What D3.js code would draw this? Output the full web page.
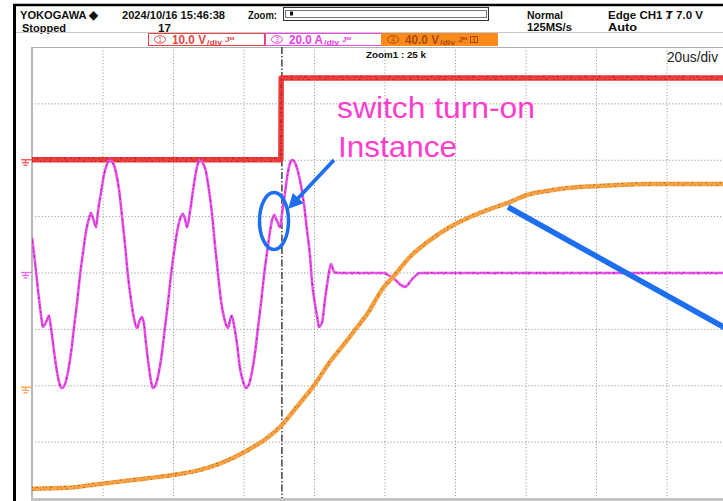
<!DOCTYPE html>
<html>
<head>
<meta charset="utf-8">
<script src="https://cdn.jsdelivr.net/npm/d3@7"></script>
<style>
  html, body { margin: 0; padding: 0; background: #fff; overflow: hidden; }
  svg { display: block; }
</style>
</head>
<body>
<svg id="scope" width="723" height="501"></svg>
<script>
// ---- Acquisition settings ----
const timePerDiv = 20;            // µs/div
const timeDomain = [0, 200];      // 10 divisions
const triggerTime = 70.9;         // µs from left edge
const gridTimes = d3.range(20, 200, 20);
const gridDivs = d3.range(-3, 4, 1);

// ---- CH1 voltage, 10 V/div, ground at +2 div ----
const ch1Time = [0, 70.6, 70.7, 200];
const ch1Volt = [0, 0, 14.5, 14.5];

// ---- CH3 current, 20 A/div, ground at centre ----
const ch3Time = [0, 0.85, 1.7, 2.55, 3.1, 4.0, 4.8, 5.4, 6.2, 7.1, 7.9, 8.5,
  9.4, 10.2, 11.1, 11.9, 12.8, 13.6, 14.5, 15.3, 16.2, 16.7, 17.3, 18.2, 18.7, 19.6, 20.4, 21.3, 22.1,
  23.0, 23.8, 24.7, 25.5, 26.4, 27.2, 28.1, 28.9, 29.8, 30.6, 31.2, 31.8, 32.3, 33.2, 33.8, 34.3,
  35.2, 36.0, 36.9, 37.7, 38.6, 39.4, 40.3, 41.1, 42.0, 42.8, 43.4, 44.0, 44.8, 45.7, 46.5, 47.1, 47.7,
  48.5, 49.4, 50.2, 51.1, 51.9, 52.8, 53.6, 54.5, 55.6, 56.2, 56.7, 57.3, 58.2, 59.0, 59.9, 60.7,
  61.6, 62.4, 63.3, 64.1, 65.0, 65.8, 66.7, 67.5, 68.1, 68.7, 69.5, 70.4, 70.9, 71.8, 72.6, 73.2, 73.8,
  74.9, 76.0, 77.2, 78.0, 78.9, 79.4, 80.3, 80.9, 81.4, 82.3, 83.1, 84.0, 84.8, 85.7, 86.8,
  99.6, 102.4, 105.8, 108.1, 110.1, 200];
const ch3Amp = [12.2, 3.7, -6.2, -15.1, -19.3, -17.6, -15.4, -19.7, -27.5, -35.3, -39.9, -41.0,
  -39.5, -35.3, -28.2, -19.7, -10.5, -1.2, 7.3, 14.4, 19.3, 21.1, 19.3, 16.1, 21.5, 28.5, 34.6, 38.5, 39.9,
  38.8, 35.6, 29.3, 20.4, 9.8, -0.9, -9.8, -16.1, -19.7, -16.8, -15.8, -18.6, -24.6, -33.9, -38.8, -41.0,
  -39.5, -35.3, -28.2, -19.7, -10.5, -1.2, 7.3, 14.0, 19.0, 20.7, 19.0, 16.1, 21.5, 29.3, 35.6, 38.8, 39.9,
  38.8, 35.6, 29.3, 20.4, 9.8, -0.9, -9.8, -16.1, -19.7, -16.8, -15.4, -18.6, -25.7, -33.9, -38.8, -41.0,
  -39.5, -35.3, -28.2, -19.7, -10.5, -1.2, 7.3, 14.4, 18.6, 20.4, 18.3, 16.1, 20.7, 28.5, 35.6, 38.8, 39.9,
  38.1, 32.8, 23.9, 15.1, 5.5, -2.7, -11.5, -15.8, -19.3, -17.6, -9.8, -2.0, 3.0, 0.2, -0.2,
  -0.2, -2.0, -5.1, -2.0, -0.2, -0.2];

// ---- CH4 voltage, 40 V/div, ground at -2 div ----
const ch4Time = [0, 9.9, 19.3, 28.7, 38.3, 47.7, 57.0, 61.8, 66.7, 70.9, 75.1, 79.7, 84.5, 88.8, 91.6,
  95.3, 99.6, 102.4, 107.2, 112.9, 118.6, 124.3, 129.9, 135.6, 140.4, 146.1, 151.8, 160.3, 175.3, 200];
const ch4Volt = [-73.5, -72.8, -70.0, -67.2, -64.3, -60.1, -51.6, -45.2, -37.4, -28.2, -15.4, -1.2, 16.5, 30.0, 39.2,
  51.3, 69.0, 76.8, 91.0, 103.0, 112.3, 119.4, 125.0, 130.0, 135.0, 137.8, 139.9, 141.3, 142.8, 142.8];

// ---- Screen texts ----
const headerLeft = ["YOKOGAWA ◆", "Stopped"];
const headerDate = ["2024/10/16 15:46:38", "17"];
const headerMode = ["Normal", "125MS/s"];
const headerTrig = ["Edge CH1 Ⱦ 7.0 V", "Auto"];
const channelNums = ["1", "3", "4"];
const channelScales = ["10.0 V", "20.0 A", "40.0 V"];
const zoomText = "Zoom1 : 25 k";
const timebaseText = "20us/div";
const noteLines = ["switch turn-on", "Instance"];

// ---- Layout ----
const plot = { left: 32, top: 47, right: 737, bottom: 498 };
const svg = d3.select("#scope");
const uiFont = "'Liberation Sans Narrow','Liberation Sans',Arial,sans-serif";

const x = d3.scaleLinear().domain(timeDomain).range([plot.left, plot.right]);
const yDiv = d3.scaleLinear().domain([-4, 4]).range([plot.bottom, plot.top]);
const y1 = d3.scaleLinear().domain([-60, 20]).range([plot.bottom, plot.top]);
const y3 = d3.scaleLinear().domain([-80, 80]).range([plot.bottom, plot.top]);
const y4 = d3.scaleLinear().domain([-80, 240]).range([plot.bottom, plot.top]);

svg.append("rect").attr("width", 723).attr("height", 501).attr("fill", "#fff");

// ---- Header ----
function label(txt, px, py, size, len, opts = {}) {
  return svg.append("text")
    .attr("x", px).attr("y", py)
    .attr("font-family", uiFont)
    .attr("font-size", size)
    .attr("font-weight", opts.weight || "bold")
    .attr("fill", opts.fill || "#111")
    .attr("textLength", len)
    .attr("lengthAdjust", "spacingAndGlyphs")
    .text(txt);
}
label(headerLeft[0], 20, 19, 11.5, 78);
label(headerLeft[1], 22, 31.5, 11, 44);
label(headerDate[0], 122, 19, 11, 103);
label(headerDate[1], 158, 31.5, 11, 13);
label("Zoom:", 248, 18.5, 11, 29);
label(headerMode[0], 527, 18.5, 11, 36);
label(headerMode[1], 527, 31, 11, 45);
label(headerTrig[0], 608, 18.5, 11, 95);
label(headerTrig[1], 608, 30.5, 11, 29);

// zoom position bar
svg.append("rect").attr("x", 283.5).attr("y", 7.5).attr("width", 205).attr("height", 13)
  .attr("fill", "none").attr("stroke", "#333").attr("stroke-width", 1);
svg.append("rect").attr("x", 285.5).attr("y", 10.5).attr("width", 201).attr("height", 7)
  .attr("fill", "none").attr("stroke", "#777").attr("stroke-width", 1);
svg.append("rect").attr("x", 290).attr("y", 11.5).attr("width", 3).attr("height", 4).attr("fill", "#111");

// frame and separator
svg.append("line").attr("x1", 16).attr("x2", 723).attr("y1", 32.5).attr("y2", 32.5)
  .attr("stroke", "#c8c8c8").attr("stroke-width", 1);
svg.append("line").attr("x1", 14.5).attr("x2", 14.5).attr("y1", 4).attr("y2", 501)
  .attr("stroke", "#000").attr("stroke-width", 3);
svg.append("line").attr("x1", 13).attr("x2", 723).attr("y1", 5).attr("y2", 5)
  .attr("stroke", "#000").attr("stroke-width", 2.5);

// channel scale boxes
const boxes = [
  { x: 148, stroke: "#e8453f", fill: "#fff", text: "#e8453f" },
  { x: 265, stroke: "#ea46ea", fill: "#fff", text: "#e83ce8" },
  { x: 381, stroke: "#ff8a1c", fill: "#ff8a1c", text: "#a84a00" }
];
boxes.forEach((b, i) => {
  const g = svg.append("g");
  g.append("rect").attr("x", b.x + 0.5).attr("y", 33.5).attr("width", 116).attr("height", 12)
    .attr("fill", b.fill).attr("stroke", b.stroke).attr("stroke-width", 1);
  g.append("ellipse").attr("cx", b.x + 12).attr("cy", 39.5).attr("rx", 5.5).attr("ry", 3.8)
    .attr("fill", "none").attr("stroke", b.text).attr("stroke-width", 1);
  g.append("text").attr("x", b.x + 12).attr("y", 42).attr("text-anchor", "middle")
    .attr("font-family", uiFont).attr("font-size", 6.5).attr("fill", b.text).text(channelNums[i]);
  g.append("text").attr("x", b.x + 24).attr("y", 44).attr("font-family", uiFont)
    .attr("font-size", 12.5).attr("font-weight", "bold").attr("fill", b.text)
    .attr("textLength", 34).attr("lengthAdjust", "spacingAndGlyphs").text(channelScales[i]);
  g.append("text").attr("x", b.x + 59).attr("y", 44.5).attr("font-family", uiFont)
    .attr("font-size", 6.5).attr("font-weight", "bold").attr("fill", b.text)
    .attr("textLength", 15).attr("lengthAdjust", "spacingAndGlyphs").text("/div");
  g.append("text").attr("x", b.x + 77).attr("y", 42).attr("font-family", uiFont)
    .attr("font-size", 7).attr("font-weight", "bold").attr("fill", b.text)
    .attr("textLength", 9).attr("lengthAdjust", "spacingAndGlyphs").text("Jᴹ");
  if (i === 2) {
    g.append("rect").attr("x", b.x + 89.5).attr("y", 36.5).attr("width", 7).attr("height", 6)
      .attr("fill", "none").attr("stroke", b.text).attr("stroke-width", 1);
    g.append("line").attr("x1", b.x + 93).attr("x2", b.x + 93).attr("y1", 36.5).attr("y2", 42.5)
      .attr("stroke", b.text).attr("stroke-width", 1);
  }
});

// ---- Grid ----
const gridG = svg.append("g");
gridG.append("g")
  .attr("transform", `translate(0,${plot.top})`)
  .call(d3.axisTop(x).tickValues(gridTimes).tickSize(-(plot.bottom - plot.top)).tickFormat(""))
  .call(g => g.select(".domain").remove());
gridG.append("g")
  .attr("transform", `translate(${plot.left},0)`)
  .call(d3.axisLeft(yDiv).tickValues(gridDivs).tickSize(-(plot.right - plot.left)).tickFormat(""))
  .call(g => g.select(".domain").remove());
gridG.selectAll(".tick line")
  .attr("stroke", "#9a9a9a").attr("stroke-width", 1).attr("stroke-dasharray", "1.2,2");

svg.append("line").attr("x1", plot.left).attr("x2", 723).attr("y1", plot.top + 0.5).attr("y2", plot.top + 0.5)
  .attr("stroke", "#b0b0b0").attr("stroke-width", 1);
svg.append("line").attr("x1", plot.left).attr("x2", plot.left).attr("y1", plot.top).attr("y2", 501)
  .attr("stroke", "#b8b8b8").attr("stroke-width", 2);
svg.append("rect").attr("x", plot.left - 1).attr("y", plot.bottom).attr("width", 723).attr("height", 4)
  .attr("fill", "#c4c4c4");

// screen texts inside the graticule
label(zoomText, 366, 58, 8.5, 60);
label(timebaseText, 667, 62, 14, 51, { weight: "normal", fill: "#222" });

// ---- Ground markers ----
function groundMark(py, color) {
  const g = svg.append("g").attr("stroke", color).attr("stroke-width", 1.3).attr("fill", "none");
  g.append("line").attr("x1", 21).attr("x2", 32).attr("y1", py).attr("y2", py);
  g.append("line").attr("x1", 25.5).attr("x2", 25.5).attr("y1", py).attr("y2", py + 2.5);
  g.append("line").attr("x1", 22).attr("x2", 29).attr("y1", py + 3).attr("y2", py + 3);
  g.append("line").attr("x1", 23.5).attr("x2", 27.5).attr("y1", py + 5.5).attr("y2", py + 5.5);
}
groundMark(y1(0), "#f05050");
groundMark(y3(0), "#ee66ee");
groundMark(y4(0) + 2, "#f5a050");

// ---- Traces ----
svg.append("defs").append("clipPath").attr("id", "plotClip")
  .append("rect").attr("x", plot.left).attr("y", plot.top)
  .attr("width", plot.right - plot.left).attr("height", plot.bottom - plot.top);
const traces = svg.append("g").attr("clip-path", "url(#plotClip)");

// trigger position
traces.append("line")
  .attr("x1", x(triggerTime)).attr("x2", x(triggerTime))
  .attr("y1", plot.top).attr("y2", plot.bottom)
  .attr("stroke", "#333").attr("stroke-width", 1.4).attr("stroke-dasharray", "7,2,1.5,2");

// sampled traces: a coloured band with darker sample speckle along both edges
function drawTrace(times, vals, yScale, curve, base, dark, width) {
  const pts = times.map((t, i) => [t, vals[i]]);
  const line = d3.line().x(d => x(d[0])).y(d => yScale(d[1])).curve(curve);
  const g = traces.append("g");
  g.append("path").attr("d", line(pts)).attr("fill", "none")
    .attr("stroke", base).attr("stroke-width", width).attr("stroke-linejoin", "round");
  g.append("path").attr("d", line(pts)).attr("fill", "none")
    .attr("transform", `translate(0,${-width * 0.3})`)
    .attr("stroke", dark).attr("stroke-width", 1).attr("stroke-opacity", 0.8)
    .attr("stroke-dasharray", "1,3,2,5,1,2");
  g.append("path").attr("d", line(pts)).attr("fill", "none")
    .attr("transform", `translate(0,${width * 0.3})`)
    .attr("stroke", dark).attr("stroke-width", 1).attr("stroke-opacity", 0.7)
    .attr("stroke-dasharray", "2,6,1,3,1,4");
}

drawTrace(ch1Time, ch1Volt, y1, d3.curveLinear, "#ee3c3c", "#8a1010", 5.5);
drawTrace(ch3Time, ch3Amp, y3, d3.curveMonotoneX, "#ee55ee", "#9a109a", 2.6);
drawTrace(ch4Time, ch4Volt, y4, d3.curveMonotoneX, "#f8a445", "#9a5010", 4.5);

// ---- Annotations ----
const blue = "#1e6ff0";
const noteX = 337;
svg.append("text").attr("x", noteX).attr("y", 118).attr("font-family", "'Liberation Sans',Arial,sans-serif")
  .attr("font-size", 29).attr("fill", "#ff3dcc")
  .attr("textLength", 198).attr("lengthAdjust", "spacingAndGlyphs").text(noteLines[0]);
svg.append("text").attr("x", noteX + 1).attr("y", 157).attr("font-family", "'Liberation Sans',Arial,sans-serif")
  .attr("font-size", 29).attr("fill", "#ff3dcc")
  .attr("textLength", 119).attr("lengthAdjust", "spacingAndGlyphs").text(noteLines[1]);

// circled turn-on instant
svg.append("ellipse").attr("cx", 274).attr("cy", 221).attr("rx", 14.5).attr("ry", 28.5)
  .attr("fill", "none").attr("stroke", blue).attr("stroke-width", 3.5);

// arrow pointing at it
const tail = [334, 160], tip = [288, 209];
const dx = tip[0] - tail[0], dy = tip[1] - tail[1];
const len = Math.hypot(dx, dy), ux = dx / len, uy = dy / len;
const headLen = 15, headHalf = 7.5;
const base = [tip[0] - ux * headLen, tip[1] - uy * headLen];
svg.append("line").attr("x1", tail[0]).attr("y1", tail[1]).attr("x2", base[0] + ux * 2).attr("y2", base[1] + uy * 2)
  .attr("stroke", blue).attr("stroke-width", 3.8);
svg.append("path")
  .attr("d", `M${tip[0]},${tip[1]} L${base[0] - uy * headHalf},${base[1] + ux * headHalf} L${base[0] + uy * headHalf},${base[1] - ux * headHalf} Z`)
  .attr("fill", blue);

// pointer line to the CH4 trace
svg.append("line").attr("x1", 508).attr("y1", 207).attr("x2", 745).attr("y2", 339)
  .attr("stroke", blue).attr("stroke-width", 5.5);
</script>
</body>
</html>
